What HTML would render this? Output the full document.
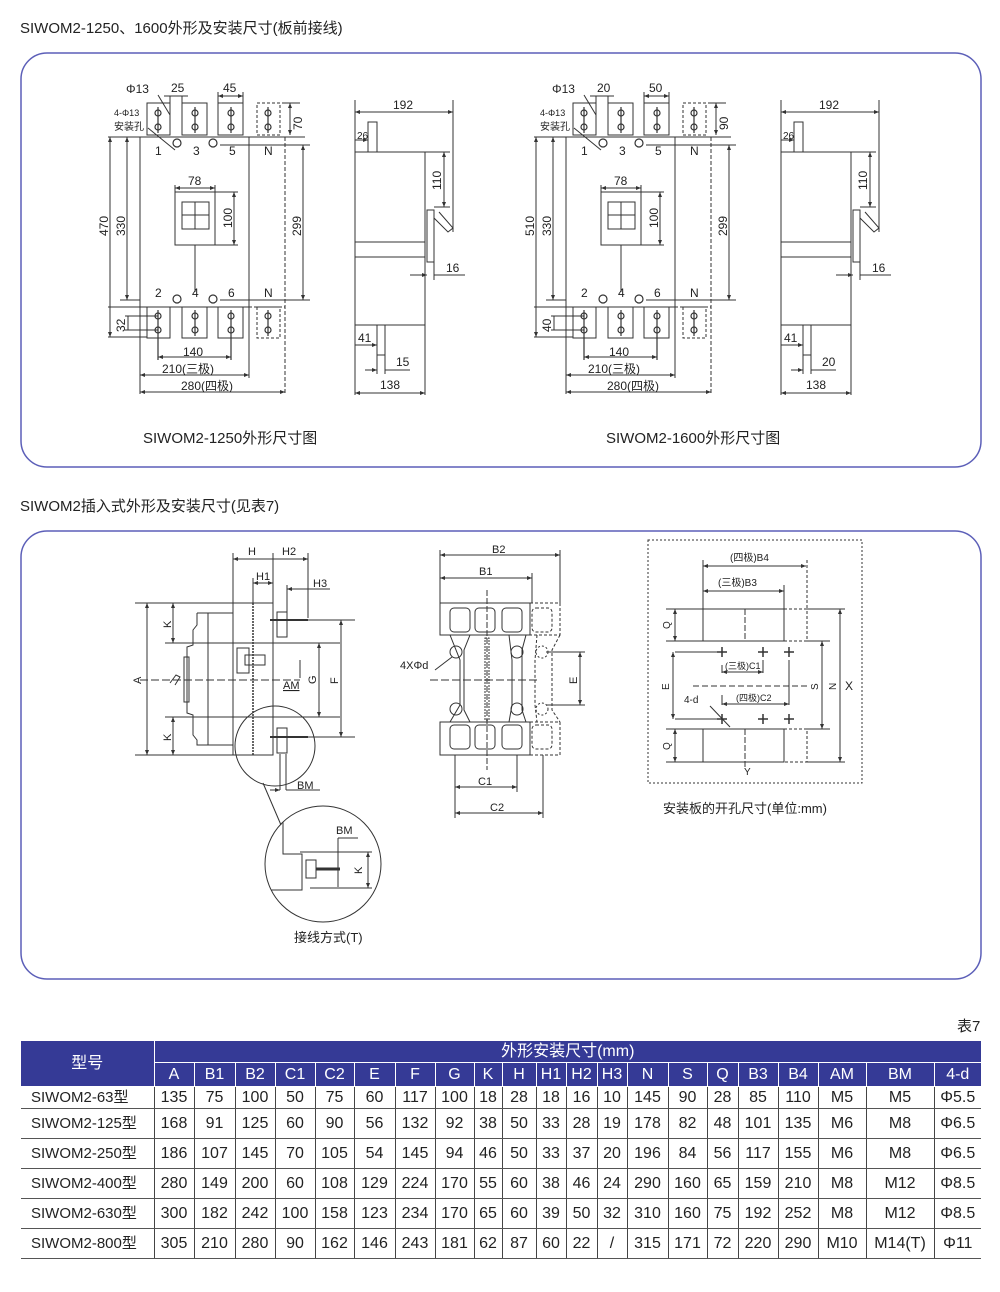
<!DOCTYPE html>
<html><head><meta charset="utf-8">
<style>
html,body{margin:0;padding:0;background:#fff;}
body{width:1000px;height:1292px;position:relative;overflow:hidden;font-family:"Liberation Sans","Noto Sans CJK SC",sans-serif;}
svg text{font-family:"Liberation Sans","Noto Sans CJK SC",sans-serif;fill:#222;}
#tbl{position:absolute;left:21px;top:1041px;border-collapse:collapse;table-layout:fixed;font-size:16px;color:#222;}
#tbl td{padding:0;text-align:center;border-left:1px solid #444;border-bottom:1px solid #555;height:29px;line-height:29px;white-space:nowrap;overflow:hidden;}
#tbl tr.h td{background:#353a96;color:#fff;border-left:1px solid #fff;border-bottom:1px solid #fff;height:21px;line-height:21px;}
#tbl tr.h1 td{height:21px;line-height:21px;}
#tbl tr.h2 td{height:23px;line-height:23px;}
#tbl tr.r1 td{height:21px;line-height:21px;}
#tbl td.m{text-align:left;padding-left:10px;border-left:none;font-size:15px;}
#tbl tr.h td.m0{border-left:none;text-align:center;padding-left:0;font-size:16px;}
</style></head><body>
<svg width="1000" height="1292" style="position:absolute;left:0;top:0" xmlns="http://www.w3.org/2000/svg">
<defs>
<marker id="a" viewBox="0 0 10 10" refX="10" refY="5" markerWidth="5" markerHeight="5" orient="auto-start-reverse"><path d="M0,1 L10,5 L0,9z" fill="#333"/></marker>
</defs>
<text x="20" y="33" font-size="15">SIWOM2-1250、1600外形及安装尺寸(板前接线)</text>
<rect x="21" y="53" width="960" height="414" rx="26" fill="none" stroke="#5c5fb8" stroke-width="1.5"/>
<text x="20" y="511" font-size="15">SIWOM2插入式外形及安装尺寸(见表7)</text>
<rect x="21" y="531" width="960" height="448" rx="26" fill="none" stroke="#5c5fb8" stroke-width="1.5"/>
<text x="957" y="1031" font-size="15">表7</text>

<!-- Top diagram group -->
<g id="d1" stroke="#333" stroke-width="1" fill="none">
 <rect x="140" y="137" width="109" height="170"/>
 <line x1="108" y1="137" x2="305" y2="137"/>
 <line x1="108" y1="307" x2="140" y2="307"/>
 <line x1="249" y1="307" x2="285" y2="307" stroke-dasharray="3,2"/>
 <line x1="285" y1="137" x2="285" y2="394" stroke-dasharray="4,2"/>
 <line x1="140" y1="307" x2="140" y2="394"/>
 <line x1="249" y1="307" x2="249" y2="378"/>
 <line x1="220" y1="145" x2="310" y2="145"/>
 <line x1="220" y1="300" x2="310" y2="300"/>
 <line x1="120" y1="300" x2="140" y2="300"/>
 <g>
  <rect x="147" y="103" width="23" height="32"/><rect x="182" y="103" width="25" height="32"/><rect x="218" y="103" width="25" height="32"/><rect x="257" y="103" width="23" height="32" stroke-dasharray="3,2"/>
  <rect x="147" y="307" width="23" height="31"/><rect x="182" y="307" width="25" height="31"/><rect x="218" y="307" width="25" height="31"/><rect x="257" y="307" width="23" height="31" stroke-dasharray="3,2"/>
 </g>
 <g stroke-width="1.2">
  <circle cx="158" cy="113" r="3"/><circle cx="158" cy="127" r="3"/><circle cx="195" cy="113" r="3"/><circle cx="195" cy="127" r="3"/><circle cx="231" cy="113" r="3"/><circle cx="231" cy="127" r="3"/><circle cx="268" cy="113" r="3"/><circle cx="268" cy="127" r="3"/>
  <circle cx="158" cy="316" r="3"/><circle cx="158" cy="330" r="3"/><circle cx="195" cy="316" r="3"/><circle cx="195" cy="330" r="3"/><circle cx="231" cy="316" r="3"/><circle cx="231" cy="330" r="3"/><circle cx="268" cy="316" r="3"/><circle cx="268" cy="330" r="3"/>
  <line x1="158" y1="107" x2="158" y2="133"/><line x1="195" y1="107" x2="195" y2="133"/><line x1="231" y1="107" x2="231" y2="133"/><line x1="268" y1="107" x2="268" y2="133"/>
  <line x1="158" y1="310" x2="158" y2="360"/><line x1="195" y1="310" x2="195" y2="336"/><line x1="231" y1="310" x2="231" y2="360"/><line x1="268" y1="310" x2="268" y2="336"/>
  <circle cx="177" cy="143" r="4"/><circle cx="213" cy="143" r="4"/><circle cx="177" cy="299" r="4"/><circle cx="213" cy="299" r="4"/>
 </g>
 <rect x="175" y="192" width="40" height="53"/>
 <rect x="182" y="202" width="27" height="27"/>
 <line x1="195" y1="202" x2="195" y2="229"/><line x1="182" y1="215" x2="209" y2="215"/>
 <line x1="195" y1="245" x2="195" y2="292"/>
 <line x1="175" y1="185" x2="175" y2="192"/><line x1="215" y1="185" x2="215" y2="192"/>
 <line x1="175" y1="188" x2="215" y2="188" marker-start="url(#a)" marker-end="url(#a)"/>
 <line x1="215" y1="192" x2="238" y2="192"/><line x1="215" y1="245" x2="238" y2="245"/>
 <line x1="234" y1="192" x2="234" y2="245" marker-start="url(#a)" marker-end="url(#a)"/>
 <line x1="110" y1="137" x2="110" y2="337" marker-start="url(#a)" marker-end="url(#a)"/>
 <line x1="108" y1="337" x2="147" y2="337"/>
 <line x1="127" y1="137" x2="127" y2="300" marker-start="url(#a)" marker-end="url(#a)"/>
 <line x1="303" y1="145" x2="303" y2="300" marker-start="url(#a)" marker-end="url(#a)"/>
 <line x1="282" y1="103" x2="300" y2="103"/>
 <line x1="290" y1="103" x2="290" y2="135" marker-start="url(#a)" marker-end="url(#a)"/>
 <line x1="125" y1="316" x2="158" y2="316"/><line x1="125" y1="330" x2="158" y2="330"/>
 <line x1="128" y1="316" x2="128" y2="330"/>
 <line x1="158" y1="357" x2="231" y2="357" marker-start="url(#a)" marker-end="url(#a)"/>
 <line x1="140" y1="375" x2="249" y2="375" marker-start="url(#a)" marker-end="url(#a)"/>
 <line x1="140" y1="392" x2="285" y2="392" marker-start="url(#a)" marker-end="url(#a)"/>
 <line x1="170" y1="96" x2="170" y2="103"/><line x1="182" y1="96" x2="182" y2="103"/>
 <line x1="164" y1="96" x2="188" y2="96"/>
 <line x1="218" y1="96" x2="243" y2="96" marker-start="url(#a)" marker-end="url(#a)"/>
 <line x1="218" y1="92" x2="218" y2="103"/><line x1="243" y1="92" x2="243" y2="103"/>
 <line x1="158" y1="95" x2="170" y2="115"/>
 <line x1="148" y1="128" x2="175" y2="150"/>
 <!-- side view -->
 <rect x="355" y="152" width="70" height="173"/>
 <line x1="355" y1="242" x2="425" y2="242"/><line x1="355" y1="257" x2="425" y2="257"/>
 <rect x="368" y="122" width="9" height="30"/>
 <rect x="427" y="210" width="7" height="52"/>
 <path d="M434,218 L448,232 L453,228 L439,212"/>
 <rect x="377" y="325" width="8" height="30"/>
 <line x1="355" y1="100" x2="355" y2="395"/><line x1="425" y1="325" x2="425" y2="395"/>
 <line x1="453" y1="100" x2="453" y2="232"/>
 <line x1="355" y1="112" x2="453" y2="112" marker-start="url(#a)" marker-end="url(#a)"/>
 <line x1="355" y1="140" x2="368" y2="140" marker-end="url(#a)"/>
 <line x1="425" y1="152" x2="450" y2="152"/><line x1="434" y1="207" x2="450" y2="207"/>
 <line x1="444" y1="152" x2="444" y2="207" marker-start="url(#a)" marker-end="url(#a)"/>
 <line x1="410" y1="275" x2="427" y2="275" marker-end="url(#a)"/><line x1="434" y1="275" x2="465" y2="275"/>
 <line x1="434" y1="262" x2="434" y2="280"/>
 <line x1="355" y1="345" x2="377" y2="345" marker-end="url(#a)"/>
 <line x1="365" y1="370" x2="377" y2="370" marker-end="url(#a)"/><line x1="385" y1="370" x2="410" y2="370"/>
 <line x1="377" y1="355" x2="377" y2="374"/><line x1="385" y1="355" x2="385" y2="374"/>
 <line x1="355" y1="393" x2="425" y2="393" marker-start="url(#a)" marker-end="url(#a)"/>
</g>
<use href="#d1" x="426" y="0"/>
<g font-size="12">
 <text x="126" y="93">Φ13</text><text x="171" y="92">25</text><text x="223" y="92">45</text>
 <text x="114" y="116" font-size="9">4-Φ13</text><text x="114" y="130" font-size="10">安装孔</text>
 <text x="155" y="155">1</text><text x="193" y="155">3</text><text x="229" y="155">5</text><text x="264" y="155">N</text>
 <text x="155" y="297">2</text><text x="192" y="297">4</text><text x="228" y="297">6</text><text x="264" y="297">N</text>
 <text x="188" y="185">78</text>
 <text transform="translate(232,228) rotate(-90)">100</text>
 <text transform="translate(108,236) rotate(-90)">470</text>
 <text transform="translate(125,236) rotate(-90)">330</text>
 <text transform="translate(301,236) rotate(-90)">299</text>
 <text transform="translate(302,130) rotate(-90)">70</text>
 <text transform="translate(125,332) rotate(-90)">32</text>
 <text x="183" y="356">140</text><text x="162" y="373">210(三极)</text><text x="181" y="390">280(四极)</text>
 <text x="393" y="109">192</text><text x="357" y="139" font-size="10">26</text>
 <text transform="translate(441,190) rotate(-90)">110</text>
 <text x="446" y="272">16</text><text x="358" y="342">41</text><text x="396" y="366">15</text><text x="380" y="389">138</text>
 <!-- 1600 -->
 <text x="552" y="93">Φ13</text><text x="597" y="92">20</text><text x="649" y="92">50</text>
 <text x="540" y="116" font-size="9">4-Φ13</text><text x="540" y="130" font-size="10">安装孔</text>
 <text x="581" y="155">1</text><text x="619" y="155">3</text><text x="655" y="155">5</text><text x="690" y="155">N</text>
 <text x="581" y="297">2</text><text x="618" y="297">4</text><text x="654" y="297">6</text><text x="690" y="297">N</text>
 <text x="614" y="185">78</text>
 <text transform="translate(658,228) rotate(-90)">100</text>
 <text transform="translate(534,236) rotate(-90)">510</text>
 <text transform="translate(551,236) rotate(-90)">330</text>
 <text transform="translate(727,236) rotate(-90)">299</text>
 <text transform="translate(728,130) rotate(-90)">90</text>
 <text transform="translate(551,332) rotate(-90)">40</text>
 <text x="609" y="356">140</text><text x="588" y="373">210(三极)</text><text x="607" y="390">280(四极)</text>
 <text x="819" y="109">192</text><text x="783" y="139" font-size="10">26</text>
 <text transform="translate(867,190) rotate(-90)">110</text>
 <text x="872" y="272">16</text><text x="784" y="342">41</text><text x="822" y="366">20</text><text x="806" y="389">138</text>
</g>
<text x="143" y="443" font-size="15">SIWOM2-1250外形尺寸图</text>
<text x="606" y="443" font-size="15">SIWOM2-1600外形尺寸图</text>

<!-- Panel 2 side view -->
<g stroke="#333" stroke-width="1" fill="none">
 <rect x="233" y="603" width="40" height="152"/>
 <line x1="253" y1="603" x2="253" y2="755" stroke-dasharray="2,1" stroke-width="1.5"/>
 <path d="M197,613 L233,613 M197,613 L197,625 L193,630 L193,645 L187,647 L187,713 L193,715 L193,735 L197,740 L197,745 L233,745"/>
 <line x1="208" y1="613" x2="208" y2="745"/>
 <rect x="184" y="657" width="5" height="45"/>
 <path d="M170,683 L176,675 L180,677 L175,685"/>
 <line x1="140" y1="680" x2="300" y2="680" stroke-dasharray="8,3"/>
 <line x1="135" y1="603" x2="233" y2="603"/><line x1="135" y1="755" x2="233" y2="755"/>
 <line x1="147" y1="603" x2="147" y2="755" marker-start="url(#a)" marker-end="url(#a)"/>
 <line x1="165" y1="643" x2="340" y2="643"/><line x1="165" y1="717" x2="340" y2="717"/>
 <line x1="173" y1="603" x2="173" y2="643" marker-start="url(#a)" marker-end="url(#a)"/>
 <line x1="173" y1="717" x2="173" y2="755" marker-start="url(#a)" marker-end="url(#a)"/>
 <rect x="237" y="648" width="12" height="25"/>
 <rect x="245" y="655" width="20" height="10"/>
 <rect x="277" y="612" width="10" height="25"/><line x1="270" y1="620" x2="308" y2="620" stroke-width="2"/>
 <rect x="277" y="728" width="10" height="25"/><line x1="270" y1="737" x2="308" y2="737" stroke-width="2"/>
 <line x1="275" y1="620" x2="355" y2="620"/><line x1="275" y1="737" x2="355" y2="737"/>
 <line x1="341" y1="620" x2="341" y2="737" marker-start="url(#a)" marker-end="url(#a)"/>
 <line x1="319" y1="643" x2="319" y2="717" marker-start="url(#a)" marker-end="url(#a)"/>
 <line x1="300" y1="660" x2="300" y2="678"/>
 <line x1="233" y1="553" x2="233" y2="603"/><line x1="273" y1="553" x2="273" y2="603"/><line x1="308" y1="553" x2="308" y2="618"/>
 <line x1="233" y1="559" x2="308" y2="559" marker-start="url(#a)" marker-end="url(#a)"/>
 <line x1="253" y1="578" x2="253" y2="603"/>
 <line x1="253" y1="583" x2="273" y2="583" marker-start="url(#a)" marker-end="url(#a)"/>
 <line x1="287" y1="589" x2="330" y2="589" marker-start="url(#a)"/>
 <line x1="287" y1="585" x2="287" y2="612"/>
 <circle cx="275" cy="746" r="40"/>
 <line x1="280" y1="754" x2="280" y2="790"/><line x1="286" y1="754" x2="286" y2="790"/>
 <line x1="270" y1="790" x2="280" y2="790" marker-end="url(#a)"/><line x1="286" y1="790" x2="320" y2="790"/>
 <line x1="263" y1="783" x2="281" y2="825"/>
 <circle cx="323" cy="864" r="58"/>
 <path d="M283,822 L283,854 L302,854 L302,890 L271,890"/>
 <rect x="306" y="860" width="10" height="18"/><line x1="316" y1="869" x2="340" y2="869" stroke-width="3"/>
 <line x1="300" y1="852" x2="372" y2="852"/><line x1="310" y1="888" x2="372" y2="888"/>
 <line x1="368" y1="852" x2="368" y2="888" marker-start="url(#a)" marker-end="url(#a)"/>
 <line x1="338" y1="838" x2="358" y2="838"/><line x1="338" y1="838" x2="338" y2="887"/>
</g>
<g font-size="11">
 <text x="248" y="555">H</text><text x="282" y="555">H2</text><text x="256" y="580">H1</text><text x="313" y="587">H3</text>
 <text transform="translate(141,684) rotate(-90)">A</text>
 <text transform="translate(171,628) rotate(-90)">K</text>
 <text transform="translate(171,741) rotate(-90)">K</text>
 <text transform="translate(316,684) rotate(-90)">G</text>
 <text transform="translate(338,684) rotate(-90)">F</text>
 <text x="283" y="689" text-decoration="underline">AM</text>
 <text x="297" y="789">BM</text>
 <text x="336" y="834">BM</text>
 <text transform="translate(362,874) rotate(-90)">K</text>
</g>
<text x="294" y="942" font-size="13">接线方式(T)</text>

<!-- Middle diagram -->
<g stroke="#333" stroke-width="1" fill="none">
 <rect x="440" y="603" width="90" height="32"/><rect x="530" y="603" width="30" height="32" stroke-dasharray="3,2"/>
 <rect x="440" y="722" width="90" height="33"/><rect x="530" y="722" width="30" height="33" stroke-dasharray="3,2"/>
 <rect x="450" y="608" width="20" height="24" rx="4"/><rect x="475" y="608" width="20" height="24" rx="4"/><rect x="502" y="608" width="20" height="24" rx="4"/><rect x="532" y="608" width="20" height="24" rx="4" stroke-dasharray="3,2"/>
 <rect x="450" y="725" width="20" height="24" rx="4"/><rect x="475" y="725" width="20" height="24" rx="4"/><rect x="502" y="725" width="20" height="24" rx="4"/><rect x="532" y="725" width="20" height="24" rx="4" stroke-dasharray="3,2"/>
 <path d="M450,635 L460,660 L460,705 L450,722 M470,635 L464,650 L464,710 L470,722"/>
 <path d="M509,635 L512,660 L512,705 L509,722 M526,635 L522,650 L522,710 L526,722"/>
 <path d="M537,635 L535,660 L535,705 L537,722 M560,635 L552,650 L552,710 L560,722" stroke-dasharray="3,2"/>
 <circle cx="456" cy="652" r="6"/><circle cx="456" cy="709" r="6"/><circle cx="517" cy="652" r="6"/><circle cx="517" cy="709" r="6"/>
 <circle cx="542" cy="652" r="6" stroke-dasharray="2,2"/><circle cx="542" cy="709" r="6" stroke-dasharray="2,2"/>
 <rect x="485" y="638" width="4" height="82" stroke-dasharray="2,1"/>
 <line x1="487" y1="590" x2="487" y2="770" stroke-dasharray="6,2"/>
 <line x1="430" y1="680" x2="540" y2="680" stroke-dasharray="8,3"/>
 <line x1="440" y1="550" x2="440" y2="603"/><line x1="560" y1="550" x2="560" y2="603"/><line x1="532" y1="573" x2="532" y2="603"/>
 <line x1="440" y1="555" x2="560" y2="555" marker-start="url(#a)" marker-end="url(#a)"/>
 <line x1="440" y1="578" x2="532" y2="578" marker-start="url(#a)" marker-end="url(#a)"/>
 <line x1="455" y1="755" x2="455" y2="818"/><line x1="517" y1="755" x2="517" y2="792"/><line x1="543" y1="755" x2="543" y2="818"/>
 <line x1="455" y1="787" x2="517" y2="787" marker-start="url(#a)" marker-end="url(#a)"/>
 <line x1="455" y1="813" x2="543" y2="813" marker-start="url(#a)" marker-end="url(#a)"/>
 <line x1="546" y1="652" x2="585" y2="652"/><line x1="546" y1="705" x2="585" y2="705"/>
 <line x1="580" y1="652" x2="580" y2="705" marker-start="url(#a)" marker-end="url(#a)"/>
 <line x1="435" y1="670" x2="452" y2="657"/>
</g>
<g font-size="11">
 <text x="492" y="553">B2</text><text x="479" y="575">B1</text><text x="478" y="785">C1</text><text x="490" y="811">C2</text>
 <text x="400" y="669">4XΦd</text>
 <text transform="translate(577,684) rotate(-90)">E</text>
</g>

<!-- Right diagram -->
<g stroke="#333" stroke-width="1" fill="none">
 <rect x="648" y="540" width="214" height="243" stroke-dasharray="2,2"/>
 <rect x="703" y="609" width="81" height="32"/><rect x="703" y="729" width="81" height="33"/>
 <path d="M784,609 L807,609 L807,641 L784,641 M784,729 L807,729 L807,762 L784,762" stroke-dasharray="3,2"/>
 <line x1="666" y1="609" x2="703" y2="609"/><line x1="666" y1="641" x2="703" y2="641"/>
 <line x1="666" y1="729" x2="703" y2="729"/><line x1="666" y1="762" x2="703" y2="762"/>
 <line x1="807" y1="609" x2="845" y2="609"/><line x1="807" y1="762" x2="845" y2="762"/>
 <line x1="807" y1="641" x2="830" y2="641"/><line x1="807" y1="729" x2="830" y2="729"/>
 <line x1="745" y1="609" x2="745" y2="641" stroke-dasharray="6,2"/><line x1="745" y1="729" x2="745" y2="768" stroke-dasharray="6,2"/>
 <line x1="675" y1="609" x2="675" y2="641" marker-start="url(#a)" marker-end="url(#a)"/>
 <line x1="675" y1="729" x2="675" y2="762" marker-start="url(#a)" marker-end="url(#a)"/>
 <line x1="703" y1="560" x2="703" y2="609"/><line x1="807" y1="560" x2="807" y2="609" stroke-dasharray="3,2"/><line x1="784" y1="585" x2="784" y2="609"/>
 <line x1="703" y1="566" x2="806" y2="566" marker-start="url(#a)" marker-end="url(#a)"/>
 <line x1="703" y1="591" x2="784" y2="591" marker-start="url(#a)" marker-end="url(#a)"/>
 <line x1="675" y1="652" x2="720" y2="652"/><line x1="675" y1="719" x2="720" y2="719"/>
 <line x1="673" y1="652" x2="673" y2="719" marker-start="url(#a)" marker-end="url(#a)"/>
 <line x1="822" y1="641" x2="822" y2="729" marker-start="url(#a)" marker-end="url(#a)"/>
 <line x1="840" y1="609" x2="840" y2="762" marker-start="url(#a)" marker-end="url(#a)"/>
 <line x1="693" y1="686" x2="810" y2="686" stroke-dasharray="6,3"/>
 <line x1="722" y1="665" x2="722" y2="673"/><line x1="763" y1="660" x2="763" y2="673"/>
 <line x1="722" y1="672" x2="763" y2="672" marker-start="url(#a)" marker-end="url(#a)"/>
 <line x1="789" y1="660" x2="789" y2="705"/><line x1="722" y1="695" x2="722" y2="705"/>
 <line x1="722" y1="704" x2="789" y2="704" marker-start="url(#a)" marker-end="url(#a)"/>
 <line x1="710" y1="706" x2="730" y2="727"/>
 <g stroke-width="1.5">
  <path d="M717,652h10M722,647v10M758,652h10M763,647v10M784,652h10M789,647v10M717,719h10M722,714v10M758,719h10M763,714v10M784,719h10M789,714v10"/>
 </g>
</g>
<g font-size="10">
 <text x="730" y="561">(四极)B4</text><text x="718" y="586">(三极)B3</text>
 <text x="725" y="669" font-size="9">(三极)C1</text><text x="736" y="701" font-size="9">(四极)C2</text>
 <text x="684" y="703">4-d</text><text x="744" y="775">Y</text>
 <text transform="translate(670,629) rotate(-90)">Q</text>
 <text transform="translate(670,750) rotate(-90)">Q</text>
 <text transform="translate(669,690) rotate(-90)">E</text>
 <text transform="translate(818,690) rotate(-90)">S</text>
 <text transform="translate(836,690) rotate(-90)">N</text>
 <text x="845" y="690" font-size="12">X</text>
</g>
<text x="663" y="813" font-size="13">安装板的开孔尺寸(单位:mm)</text>
</svg>

<table id="tbl">
<colgroup><col style="width:133px"><col style="width:40px"><col style="width:41px"><col style="width:40px"><col style="width:40px"><col style="width:39px"><col style="width:41px"><col style="width:40px"><col style="width:39px"><col style="width:28px"><col style="width:34px"><col style="width:30px"><col style="width:31px"><col style="width:30px"><col style="width:41px"><col style="width:39px"><col style="width:31px"><col style="width:40px"><col style="width:40px"><col style="width:48px"><col style="width:68px"><col style="width:47px"></colgroup>
<tr class="h h1"><td class="m0" rowspan="2" style="height:45px;line-height:45px">型号</td><td colspan="21">外形安装尺寸(mm)</td></tr>
<tr class="h h2"><td>A</td><td>B1</td><td>B2</td><td>C1</td><td>C2</td><td>E</td><td>F</td><td>G</td><td>K</td><td>H</td><td>H1</td><td>H2</td><td>H3</td><td>N</td><td>S</td><td>Q</td><td>B3</td><td>B4</td><td>AM</td><td>BM</td><td>4-d</td></tr>
<tr class="r1"><td class="m">SIWOM2-63型</td><td>135</td><td>75</td><td>100</td><td>50</td><td>75</td><td>60</td><td>117</td><td>100</td><td>18</td><td>28</td><td>18</td><td>16</td><td>10</td><td>145</td><td>90</td><td>28</td><td>85</td><td>110</td><td>M5</td><td>M5</td><td>Φ5.5</td></tr>
<tr><td class="m">SIWOM2-125型</td><td>168</td><td>91</td><td>125</td><td>60</td><td>90</td><td>56</td><td>132</td><td>92</td><td>38</td><td>50</td><td>33</td><td>28</td><td>19</td><td>178</td><td>82</td><td>48</td><td>101</td><td>135</td><td>M6</td><td>M8</td><td>Φ6.5</td></tr>
<tr><td class="m">SIWOM2-250型</td><td>186</td><td>107</td><td>145</td><td>70</td><td>105</td><td>54</td><td>145</td><td>94</td><td>46</td><td>50</td><td>33</td><td>37</td><td>20</td><td>196</td><td>84</td><td>56</td><td>117</td><td>155</td><td>M6</td><td>M8</td><td>Φ6.5</td></tr>
<tr><td class="m">SIWOM2-400型</td><td>280</td><td>149</td><td>200</td><td>60</td><td>108</td><td>129</td><td>224</td><td>170</td><td>55</td><td>60</td><td>38</td><td>46</td><td>24</td><td>290</td><td>160</td><td>65</td><td>159</td><td>210</td><td>M8</td><td>M12</td><td>Φ8.5</td></tr>
<tr><td class="m">SIWOM2-630型</td><td>300</td><td>182</td><td>242</td><td>100</td><td>158</td><td>123</td><td>234</td><td>170</td><td>65</td><td>60</td><td>39</td><td>50</td><td>32</td><td>310</td><td>160</td><td>75</td><td>192</td><td>252</td><td>M8</td><td>M12</td><td>Φ8.5</td></tr>
<tr><td class="m">SIWOM2-800型</td><td>305</td><td>210</td><td>280</td><td>90</td><td>162</td><td>146</td><td>243</td><td>181</td><td>62</td><td>87</td><td>60</td><td>22</td><td>/</td><td>315</td><td>171</td><td>72</td><td>220</td><td>290</td><td>M10</td><td>M14(T)</td><td>Φ11</td></tr>
</table>
</body></html>
